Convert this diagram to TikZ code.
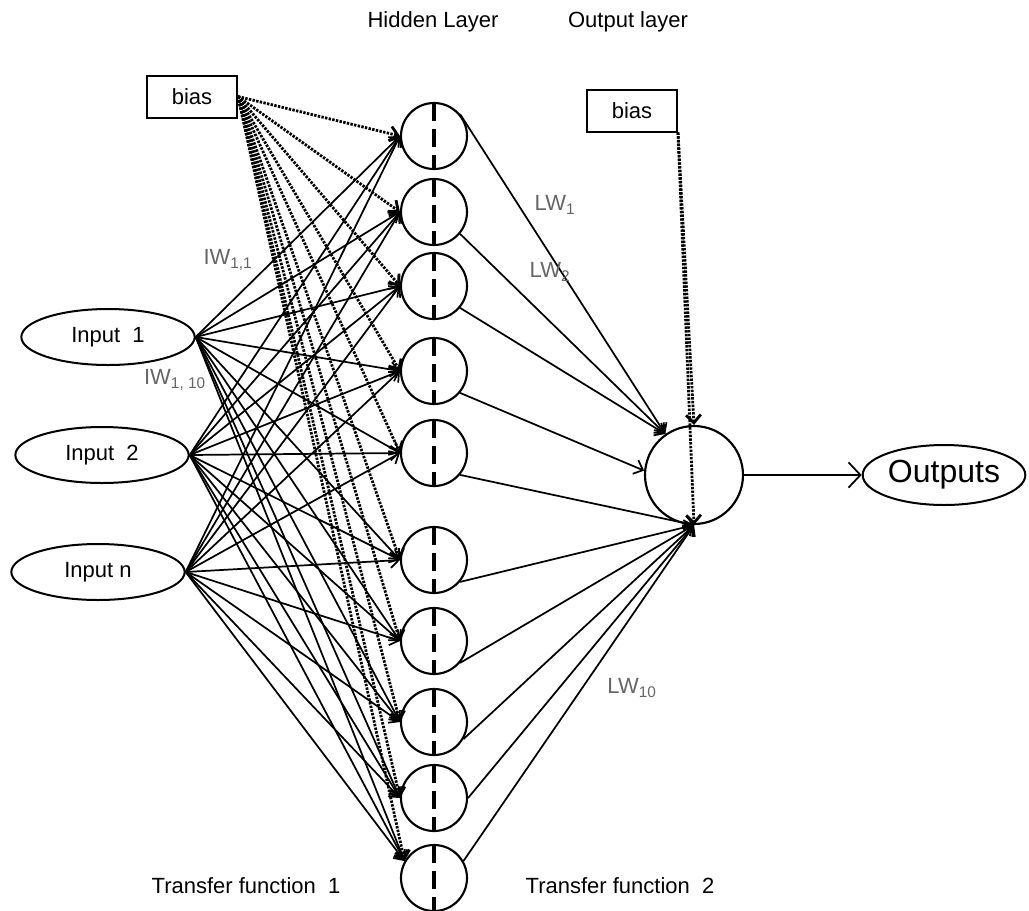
\documentclass[tikz,border=0pt]{standalone}
\usepackage{fontspec}
\setmainfont{Liberation Sans}
\usetikzlibrary{arrows.meta,shapes.geometric}

\tikzset{
  neuron/.style={draw,circle,line width=1.6pt,minimum size=49.5pt,inner sep=0pt},
  sumnode/.style={draw,circle,line width=1.6pt,minimum size=73.5pt,inner sep=0pt},
  inbox/.style={draw,ellipse,line width=1.5pt,minimum width=130pt,minimum height=42pt,inner sep=0pt,font=\fontsize{16.5}{18}\selectfont},
  biasbox/.style={draw,rectangle,line width=1.5pt,minimum width=67.5pt,minimum height=31.5pt,inner sep=0pt,font=\fontsize{16.5}{18}\selectfont},
  link/.style={line width=1.3pt,-{Straight Barb[length=6pt,width=11pt]}},
  biaslink/.style={line width=2.1pt,dash pattern=on 1.8pt off 1pt,-{Straight Barb[length=6pt,width=11pt]}},
  midline/.style={line width=3pt,dash pattern=on 14pt off 6pt},
  lbl/.style={font=\fontsize{16.5}{18}\selectfont},
  wlbl/.style={text=black!60,font=\fontsize{16.5}{18}\selectfont}
}

\begin{document}
\begin{tikzpicture}[x=0.75pt,y=-0.75pt]
  \useasboundingbox (0,0) rectangle (1029,911);

  % hidden layer
  \foreach \i/\y in {1/136,2/212,3/286,4/371,5/453,6/560,7/641,8/722,9/798,10/878}{
    \node[neuron] (h\i) at (434,\y) {};
    \draw[midline] (h\i.north) -- (h\i.south);
  }

  % inputs and biases
  \node[inbox] (in1) at (108,337) {Input~~1};
  \node[inbox] (in2) at (102,455) {Input~~2};
  \node[inbox] (in3) at (98,572) {Input n};
  \node[biasbox] (biasI) at (192,96.5) {bias};
  \node[biasbox] (biasO) at (632,110.5) {bias};

  % output
  \node[sumnode] (out) at (694,475) {};
  \node[inbox,minimum width=122pt,minimum height=45pt,font=\fontsize{24}{26}\selectfont] (outs) at (944,475) {Outputs};

  \foreach \k in {1,2,3}{
    \foreach \i in {1,...,9}{
      \draw[link] (in\k.east) -- (h\i.west);
    }
    \draw[link] (in\k.east) -- (h10.150);
  }
  \foreach \i in {1,...,9}{
    \draw[biaslink] (biasI.east) -- (h\i.west);
  }
  \draw[biaslink] (biasI.east) -- (h10.150);

  \draw[link] (h1.40) -- (out.125);
  \foreach \i in {2,3}{
    \draw[link] (h\i.-40) -- (out.125);
  }
  \draw[link] (h4.-40) -- (out.175);
  \foreach \i/\a in {5/-40,6/-40,7/-40,8/-30,9/0,10/30}{
    \draw[link] (h\i.\a) -- (out.south);
  }
  \draw[biaslink] (biasO.south east) -- (out.north);
  \draw[biaslink] (biasO.south east) -- (out.south);
  \draw[link,-{Straight Barb[length=9pt,width=19pt]}] (out.east) -- (outs.west);

  % labels
  \node[lbl] at (433,22) {Hidden Layer};
  \node[lbl] at (628,22) {Output layer};
  \node[wlbl] at (228,260) {IW\textsubscript{1,1}};
  \node[wlbl] at (175,380) {IW\textsubscript{1, 10}};
  \node[wlbl] at (555,205) {LW\textsubscript{1}};
  \node[wlbl] at (550,272) {LW\textsubscript{2}};
  \node[wlbl] at (632,688) {LW\textsubscript{10}};
  \node[lbl] at (246,886) {Transfer function~~1};
  \node[lbl] at (620,886) {Transfer function~~2};
\end{tikzpicture}
\end{document}
